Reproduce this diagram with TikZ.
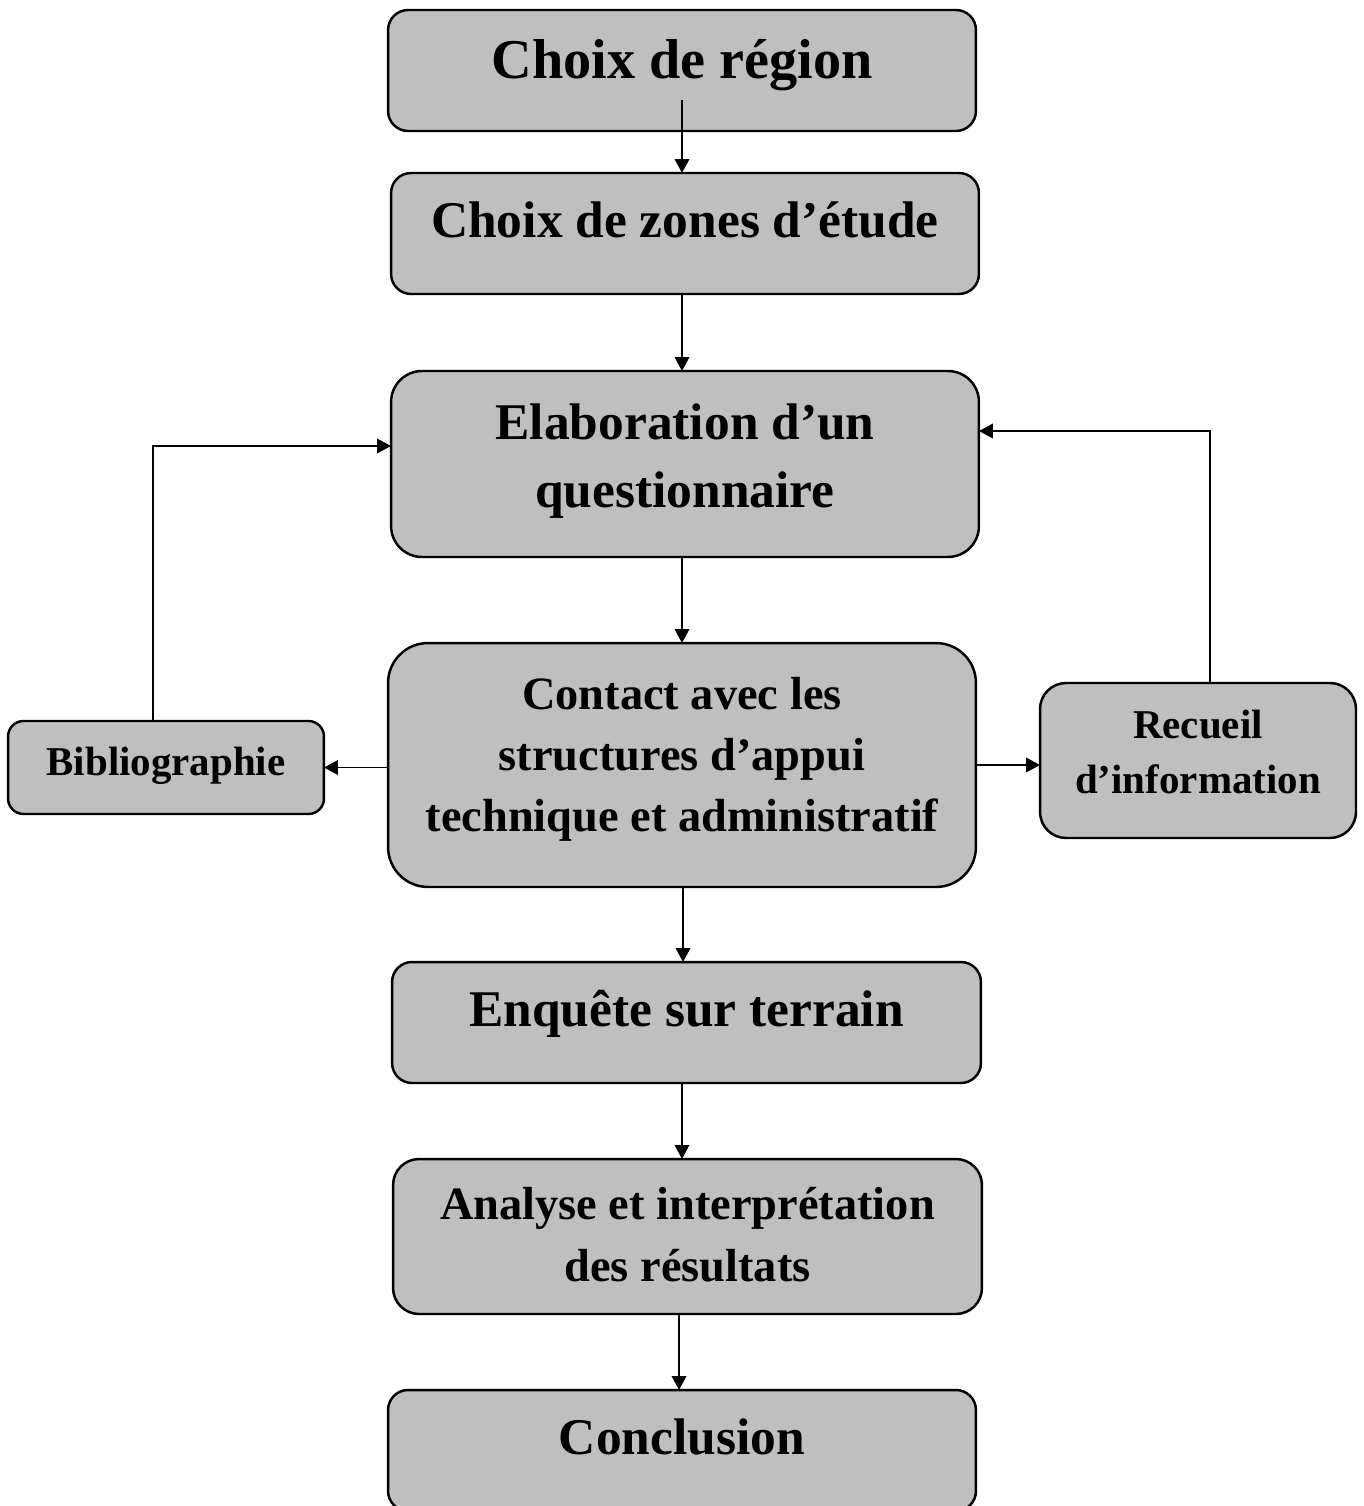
\documentclass[tikz,border=0pt]{standalone}
\usepackage{fontspec}
\setmainfont{Liberation Serif}
\usetikzlibrary{arrows.meta}
\definecolor{boxgray}{HTML}{BFBFBF}

\begin{document}
\begin{tikzpicture}[x=0.02cm, y=-0.02cm,
     box/.style = {rectangle, draw, fill=boxgray, line width=1.4pt,% grey boxes
                   inner sep=0pt, outer sep=0pt},
     txt/.style = {align=center, inner sep=0pt},% texts in the boxes
      fA/.style = {font=\fontsize{32}{38}\selectfont\bfseries},
      fB/.style = {font=\fontsize{29.3}{38.7}\selectfont\bfseries},
      fC/.style = {font=\fontsize{26.4}{34.8}\selectfont\bfseries},
      fD/.style = {font=\fontsize{23.3}{31.3}\selectfont\bfseries},
    link/.style = {line width=1.1pt, -{Triangle[length=0.28cm, width=0.29cm]}},
                    ]
\useasboundingbox (0,0) rectangle (1363,1506);
% boxes
\node[box, minimum width=11.76cm, minimum height=2.42cm, rounded corners=0.4cm]  (region)  at (682,70.5)   {};
\node[box, minimum width=11.76cm, minimum height=2.42cm, rounded corners=0.4cm]  (zones)   at (685,233.5)  {};
\node[box, minimum width=11.76cm, minimum height=3.72cm, rounded corners=0.62cm] (quest)   at (685,464)    {};
\node[box, minimum width=11.76cm, minimum height=4.88cm, rounded corners=0.8cm]  (contact) at (682,765)    {};
\node[box, minimum width=6.32cm,  minimum height=1.86cm, rounded corners=0.31cm] (biblio)  at (166,767.5)  {};
\node[box, minimum width=6.32cm,  minimum height=3.10cm, rounded corners=0.52cm] (recueil) at (1198,760.5) {};
\node[box, minimum width=11.78cm, minimum height=2.42cm, rounded corners=0.4cm]  (enquete) at (686.5,1022.5) {};
\node[box, minimum width=11.78cm, minimum height=3.10cm, rounded corners=0.52cm] (analyse) at (687.5,1236.5) {};
\node[box, minimum width=11.76cm, minimum height=2.42cm, rounded corners=0.4cm]  (concl)   at (682,1450.5) {};
% texts
\node[txt, fA, text height=22.1pt, text depth=7pt]   (region-t)  at (682,65)     {Choix de région};
\node[txt, fB, text height=20.2pt, text depth=6.4pt] (zones-t)   at (685,225.6)  {Choix de zones d’étude};
\node[txt, fB]                                        (quest-t)   at (685,461)    {Elaboration d’un\\questionnaire};
\node[txt, fC]                                        (contact-t) at (682,759.4)  {Contact avec les\\structures d’appui\\technique et administratif};
\node[txt, fD, text height=16.1pt, text depth=5.1pt] (biblio-t)  at (166,765.7)  {Bibliographie};
\node[txt, fD]                                        (recueil-t) at (1198,752)   {Recueil\\d’information};
\node[txt, fB, text height=20.2pt, text depth=6.4pt] (enquete-t) at (686.5,1014.6) {Enquête sur terrain};
\node[txt, fC]                                        (analyse-t) at (687.5,1234.6) {Analyse et interprétation\\des résultats};
\node[txt, fB, text height=20.2pt, text depth=6.4pt] (concl-t)   at (682,1442.6) {Conclusion};
% arrows
\draw[link] ([yshift=0.62cm]region.south) -- (region.south |- zones.north);
\draw[link] (zones.south -| region.center) -- (quest.north -| region.center);
\draw[link] (quest.south -| contact.center) -- (contact.north);
\draw[link] ([xshift=0.02cm]contact.south) -- ([xshift=0.02cm]contact.south |- enquete.north);
\draw[link] (enquete.south -| contact.center) -- (analyse.north -| contact.center);
\draw[link] ([xshift=-0.06cm]analyse.south -| concl.center) -- ([xshift=-0.06cm]concl.north);
\draw[link] (contact.west |- biblio.east) -- (biblio.east);
\draw[link] (contact.east) -- (contact.east -| recueil.west);
\draw[link] ([xshift=-0.26cm]biblio.north) |- ([yshift=0.36cm]quest.west);
\draw[link] ([xshift=0.24cm]recueil.north) |- ([yshift=0.66cm]quest.east);
\end{tikzpicture}
\end{document}
